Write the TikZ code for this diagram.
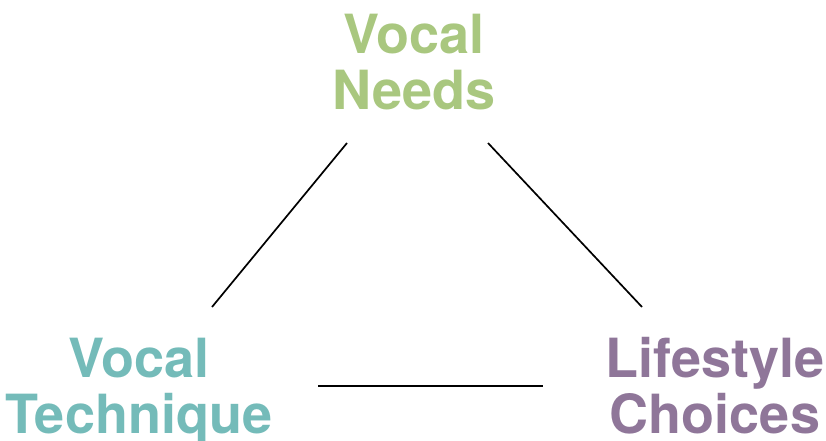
\documentclass[tikz,border=0pt]{standalone}
\usepackage{fontspec}
\setmainfont{TeX Gyre Heros}
\definecolor{needsgreen}{HTML}{A9C77F}
\definecolor{techteal}{HTML}{74BBB9}
\definecolor{lifepurple}{HTML}{8F7699}

\begin{document}
\begin{tikzpicture}[x=1pt, y=-1pt,
    corner/.style={align=center, inner sep=0pt, anchor=base,
        font=\fontsize{54}{56}\selectfont\bfseries},
    link/.style={line width=1.7pt, black}]
    \useasboundingbox (0,0) rectangle (826,441);

    % Labels (anchored at the baseline of the second line)
    \node[corner, text=needsgreen] (needs) at (414,110) {Vocal\\Needs};
    \node[corner, text=techteal] (technique) at (139,433) {Vocal\\Technique};
    \node[corner, text=lifepurple] (lifestyle) at (715,433) {Lifestyle\\Choices};

    % Line ends
    \coordinate (needs-l) at (347,143);
    \coordinate (needs-r) at (488,143);
    \coordinate (tech-t) at (212,307);
    \coordinate (tech-r) at (318,386);
    \coordinate (life-t) at (642,307);
    \coordinate (life-l) at (543,386);

    % Links
    \draw[link] (needs-l) -- (tech-t);
    \draw[link] (needs-r) -- (life-t);
    \draw[link] (tech-r) -- (life-l);
\end{tikzpicture}
\end{document}
